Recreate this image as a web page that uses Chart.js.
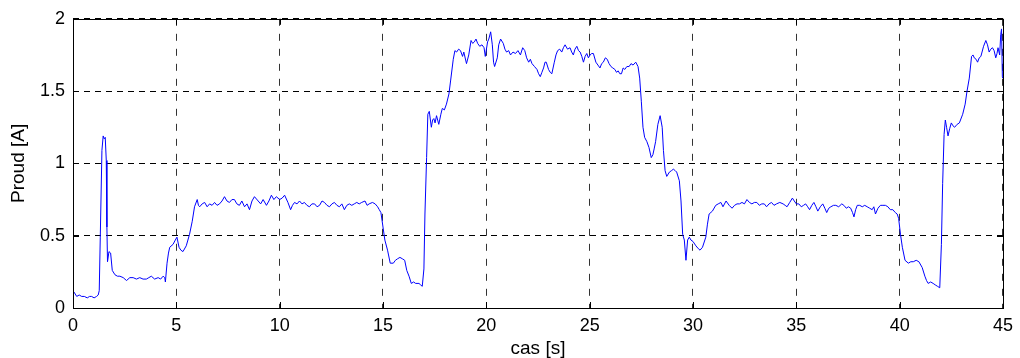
<!DOCTYPE html>
<html>
<head>
<meta charset="utf-8">
<script src="https://cdn.jsdelivr.net/npm/chart.js@4.4.1/dist/chart.umd.min.js"></script>
<style>
  html, body { margin: 0; padding: 0; background: #fff; }
  #wrap { width: 1020px; height: 358px; }
</style>
</head>
<body>
<div id="wrap"><canvas id="proudChart" width="1020" height="358"></canvas></div>
<script>
"use strict";

var timeS = [
  0.00, 0.05, 0.18, 0.30, 0.42, 0.55, 0.69, 0.80, 0.90, 1.02, 1.14, 1.22, 1.27, 1.32, 1.40, 1.46, 1.51, 1.56, 1.61, 1.64,
  1.67, 1.74, 1.82, 1.90, 2.03, 2.15, 2.27, 2.43, 2.59, 2.75, 2.91, 3.07, 3.23, 3.39, 3.55, 3.67, 3.79, 3.95, 4.12, 4.24,
  4.36, 4.44, 4.47, 4.55, 4.62, 4.68, 4.84, 4.95, 5.03, 5.13, 5.22, 5.32, 5.48, 5.64, 5.77, 5.88, 6.01, 6.07, 6.13, 6.25,
  6.37, 6.49, 6.61, 6.73, 6.85, 6.97, 7.09, 7.21, 7.33, 7.45, 7.57, 7.69, 7.81, 7.93, 8.05, 8.17, 8.30, 8.42, 8.54, 8.66,
  8.78, 8.96, 9.08, 9.20, 9.36, 9.48, 9.60, 9.72, 9.84, 10.00, 10.12, 10.24, 10.40, 10.53, 10.62, 10.72, 10.84, 10.96, 11.08, 11.20,
  11.32, 11.44, 11.56, 11.69, 11.81, 11.93, 12.05, 12.17, 12.29, 12.41, 12.53, 12.65, 12.77, 12.89, 13.01, 13.13, 13.25, 13.37, 13.49, 13.61,
  13.73, 13.85, 13.97, 14.13, 14.23, 14.33, 14.49, 14.62, 14.74, 14.82, 14.90, 15.00, 15.09, 15.22, 15.35, 15.50, 15.60, 15.70, 15.82, 15.94,
  16.05, 16.15, 16.26, 16.37, 16.48, 16.58, 16.74, 16.82, 16.90, 16.98, 17.03, 17.11, 17.17, 17.24, 17.34, 17.40, 17.46, 17.52, 17.59, 17.70,
  17.80, 17.87, 17.97, 18.07, 18.19, 18.27, 18.40, 18.48, 18.56, 18.66, 18.75, 18.85, 18.91, 19.04, 19.15, 19.26, 19.34, 19.42, 19.50, 19.58,
  19.68, 19.79, 19.89, 19.95, 20.06, 20.12, 20.21, 20.29, 20.35, 20.40, 20.53, 20.60, 20.69, 20.82, 20.90, 20.98, 21.08, 21.17, 21.29, 21.41,
  21.53, 21.65, 21.76, 21.86, 21.95, 22.05, 22.13, 22.21, 22.33, 22.45, 22.53, 22.61, 22.69, 22.77, 22.84, 22.90, 23.01, 23.09, 23.17, 23.29,
  23.37, 23.45, 23.55, 23.65, 23.73, 23.81, 23.93, 24.05, 24.13, 24.21, 24.29, 24.38, 24.46, 24.54, 24.62, 24.70, 24.78, 24.86, 24.94, 25.02,
  25.10, 25.18, 25.30, 25.40, 25.50, 25.58, 25.66, 25.76, 25.85, 25.94, 26.03, 26.12, 26.22, 26.30, 26.38, 26.46, 26.54, 26.62, 26.70, 26.80,
  26.91, 27.00, 27.10, 27.23, 27.34, 27.42, 27.50, 27.58, 27.66, 27.77, 27.87, 27.98, 28.06, 28.12, 28.19, 28.30, 28.41, 28.51, 28.57, 28.65,
  28.73, 28.86, 28.96, 29.05, 29.14, 29.21, 29.34, 29.42, 29.50, 29.58, 29.66, 29.74, 29.82, 29.90, 30.00, 30.14, 30.26, 30.34, 30.46, 30.62,
  30.70, 30.78, 30.94, 31.10, 31.22, 31.35, 31.45, 31.60, 31.75, 31.89, 32.01, 32.13, 32.25, 32.37, 32.49, 32.61, 32.73, 32.85, 32.97, 33.09,
  33.21, 33.33, 33.45, 33.56, 33.68, 33.80, 33.92, 34.04, 34.20, 34.36, 34.46, 34.55, 34.68, 34.81, 34.90, 35.00, 35.12, 35.24, 35.35, 35.45,
  35.55, 35.64, 35.75, 35.85, 35.95, 36.04, 36.16, 36.28, 36.38, 36.47, 36.57, 36.67, 36.80, 36.91, 37.05, 37.20, 37.30, 37.42, 37.52, 37.63,
  37.72, 37.79, 37.87, 37.95, 38.07, 38.19, 38.31, 38.43, 38.55, 38.67, 38.75, 38.83, 38.95, 39.07, 39.19, 39.31, 39.43, 39.55, 39.67, 39.79,
  39.88, 39.95, 40.04, 40.13, 40.26, 40.42, 40.54, 40.66, 40.80, 40.93, 41.09, 41.22, 41.30, 41.38, 41.50, 41.62, 41.72, 41.83, 41.94, 42.02,
  42.08, 42.15, 42.21, 42.27, 42.34, 42.42, 42.50, 42.58, 42.66, 42.78, 42.89, 43.05, 43.17, 43.26, 43.37, 43.48, 43.55, 43.61, 43.70, 43.77,
  43.85, 43.93, 44.06, 44.17, 44.25, 44.33, 44.41, 44.49, 44.57, 44.65, 44.71, 44.76, 44.84, 44.89, 44.93, 44.97, 45.00
];
var currentA = [
  0.11, 0.11, 0.08, 0.09, 0.08, 0.08, 0.07, 0.08, 0.08, 0.07, 0.08, 0.09, 0.12, 0.49, 1.09, 1.19, 1.17, 1.18, 1.02, 0.56,
  0.32, 0.39, 0.38, 0.26, 0.23, 0.22, 0.22, 0.21, 0.19, 0.21, 0.21, 0.20, 0.21, 0.20, 0.20, 0.21, 0.22, 0.20, 0.21, 0.20,
  0.22, 0.21, 0.18, 0.31, 0.38, 0.42, 0.44, 0.47, 0.49, 0.42, 0.40, 0.39, 0.43, 0.51, 0.60, 0.70, 0.75, 0.71, 0.70, 0.72,
  0.73, 0.70, 0.72, 0.71, 0.73, 0.71, 0.72, 0.74, 0.77, 0.74, 0.73, 0.75, 0.75, 0.72, 0.71, 0.74, 0.70, 0.72, 0.68, 0.74,
  0.77, 0.74, 0.72, 0.75, 0.71, 0.74, 0.78, 0.75, 0.77, 0.75, 0.76, 0.78, 0.73, 0.68, 0.71, 0.73, 0.72, 0.74, 0.72, 0.73,
  0.71, 0.70, 0.72, 0.72, 0.70, 0.71, 0.74, 0.73, 0.71, 0.70, 0.72, 0.73, 0.71, 0.70, 0.72, 0.68, 0.71, 0.72, 0.71, 0.72,
  0.73, 0.72, 0.73, 0.74, 0.71, 0.72, 0.73, 0.72, 0.70, 0.68, 0.66, 0.56, 0.47, 0.40, 0.31, 0.31, 0.33, 0.34, 0.35, 0.34,
  0.33, 0.26, 0.22, 0.17, 0.18, 0.17, 0.17, 0.16, 0.15, 0.27, 0.65, 1.04, 1.34, 1.36, 1.25, 1.30, 1.31, 1.28, 1.33, 1.27,
  1.34, 1.38, 1.37, 1.41, 1.48, 1.57, 1.72, 1.78, 1.77, 1.79, 1.78, 1.74, 1.77, 1.69, 1.75, 1.85, 1.83, 1.84, 1.86, 1.83,
  1.81, 1.82, 1.80, 1.74, 1.84, 1.86, 1.91, 1.82, 1.70, 1.67, 1.73, 1.82, 1.86, 1.83, 1.79, 1.77, 1.78, 1.75, 1.77, 1.76,
  1.78, 1.75, 1.80, 1.78, 1.73, 1.70, 1.72, 1.69, 1.67, 1.65, 1.62, 1.60, 1.63, 1.66, 1.70, 1.70, 1.65, 1.63, 1.62, 1.70,
  1.75, 1.78, 1.79, 1.77, 1.80, 1.82, 1.79, 1.80, 1.77, 1.75, 1.79, 1.81, 1.78, 1.77, 1.74, 1.70, 1.74, 1.76, 1.73, 1.75,
  1.76, 1.76, 1.70, 1.68, 1.66, 1.69, 1.70, 1.73, 1.72, 1.69, 1.67, 1.66, 1.65, 1.63, 1.64, 1.62, 1.62, 1.66, 1.65, 1.67,
  1.67, 1.69, 1.68, 1.70, 1.67, 1.59, 1.43, 1.25, 1.18, 1.15, 1.11, 1.04, 1.06, 1.10, 1.15, 1.27, 1.33, 1.25, 1.09, 0.95,
  0.91, 0.94, 0.95, 0.96, 0.95, 0.94, 0.88, 0.74, 0.51, 0.47, 0.33, 0.47, 0.49, 0.47, 0.46, 0.43, 0.41, 0.40, 0.42, 0.49,
  0.58, 0.65, 0.67, 0.71, 0.72, 0.73, 0.70, 0.74, 0.71, 0.69, 0.71, 0.72, 0.72, 0.73, 0.72, 0.75, 0.73, 0.72, 0.73, 0.73,
  0.71, 0.72, 0.72, 0.70, 0.72, 0.73, 0.71, 0.72, 0.73, 0.72, 0.71, 0.70, 0.73, 0.76, 0.74, 0.72, 0.72, 0.70, 0.71, 0.72,
  0.70, 0.68, 0.71, 0.73, 0.70, 0.67, 0.70, 0.72, 0.69, 0.66, 0.69, 0.70, 0.71, 0.71, 0.70, 0.72, 0.71, 0.69, 0.70, 0.69,
  0.66, 0.63, 0.68, 0.71, 0.71, 0.70, 0.71, 0.70, 0.69, 0.68, 0.70, 0.65, 0.69, 0.71, 0.71, 0.71, 0.70, 0.68, 0.68, 0.66,
  0.65, 0.62, 0.51, 0.42, 0.33, 0.31, 0.32, 0.32, 0.33, 0.32, 0.28, 0.22, 0.19, 0.17, 0.18, 0.17, 0.16, 0.15, 0.14, 0.44,
  0.86, 1.20, 1.30, 1.25, 1.19, 1.24, 1.28, 1.26, 1.25, 1.27, 1.28, 1.34, 1.41, 1.50, 1.59, 1.74, 1.75, 1.73, 1.72, 1.70,
  1.73, 1.74, 1.81, 1.85, 1.82, 1.77, 1.79, 1.80, 1.78, 1.73, 1.76, 1.80, 1.75, 1.89, 1.93, 1.60, 1.59
];
/* axis ticks */
var xTickStep = 5;
var xRange = [0, 45];
var yTickStep = 0.5;
var yRange = [0, 2];
var xLabel = "cas [s]";
var yLabel = "Proud [A]";

var fontFamily = "'Liberation Sans', Arial, Helvetica, sans-serif";

/* matlab-ish box + inward tick marks */
var boxPlugin = {
    id: "box",
    afterDraw: function (chart) {
        var ctx = chart.ctx;
        var a = chart.chartArea;
        var xs = chart.scales.x;
        var ys = chart.scales.y;
        var i, p;
        ctx.save();
        ctx.strokeStyle = "#000";
        ctx.lineWidth = 1;
        ctx.setLineDash([]);
        ctx.beginPath();
        for (i = 0; i < xs.ticks.length; i++) {
            p = Math.round(xs.getPixelForValue(xs.ticks[i].value)) + 0.5;
            ctx.moveTo(p, a.bottom); ctx.lineTo(p, a.bottom - 6);
            ctx.moveTo(p, a.top); ctx.lineTo(p, a.top + 6);
        }
        for (i = 0; i < ys.ticks.length; i++) {
            p = Math.round(ys.getPixelForValue(ys.ticks[i].value)) + 0.5;
            ctx.moveTo(a.left, p); ctx.lineTo(a.left + 6, p);
            ctx.moveTo(a.right, p); ctx.lineTo(a.right - 6, p);
        }
        ctx.stroke();
        ctx.strokeRect(Math.round(a.left) + 0.5, Math.round(a.top) + 0.5,
            Math.round(a.right - a.left), Math.round(a.bottom - a.top));
        ctx.restore();
    }
};

var points = [];
var i;
for (i = 0; i < timeS.length; i++) {
    points.push({ x: timeS[i], y: currentA[i] });
}

var chart = new Chart(document.getElementById("proudChart"), {
    type: "line",
    data: {
        datasets: [{
            data: points,
            borderColor: "#0000ff",
            borderWidth: 1,
            pointRadius: 0,
            tension: 0,
            fill: false
        }]
    },
    options: {
        responsive: false,
        animation: false,
        events: [],
        layout: { padding: { top: 17, right: 12, left: 0, bottom: 0 } },
        plugins: {
            legend: { display: false },
            tooltip: { enabled: false }
        },
        scales: {
            x: {
                type: "linear",
                min: xRange[0],
                max: xRange[1],
                afterFit: function (scale) { scale.height = 50; },
                ticks: {
                    stepSize: xTickStep,
                    color: "#000",
                    padding: 7,
                    maxRotation: 0,
                    font: { family: fontFamily, size: 18 }
                },
                grid: { color: "#333", lineWidth: 1, drawTicks: false },
                border: { display: false, dash: [7, 8] },
                title: {
                    display: true,
                    text: xLabel,
                    color: "#000",
                    font: { family: fontFamily, size: 19, lineHeight: 1.0 },
                    padding: { top: 0, bottom: 0 }
                }
            },
            y: {
                min: yRange[0],
                max: yRange[1],
                afterFit: function (scale) { scale.width = 73; },
                ticks: {
                    stepSize: yTickStep,
                    color: "#000",
                    padding: 8,
                    font: { family: fontFamily, size: 18 },
                    callback: function (value) { return String(value); }
                },
                grid: { color: "#000", lineWidth: 1, drawTicks: false },
                border: { display: false, dash: [6, 5] },
                title: {
                    display: true,
                    text: yLabel,
                    color: "#000",
                    font: { family: fontFamily, size: 19, lineHeight: 1.2 },
                    padding: { top: 7, bottom: 0 }
                }
            }
        }
    },
    plugins: [boxPlugin]
});
</script>
</body>
</html>
